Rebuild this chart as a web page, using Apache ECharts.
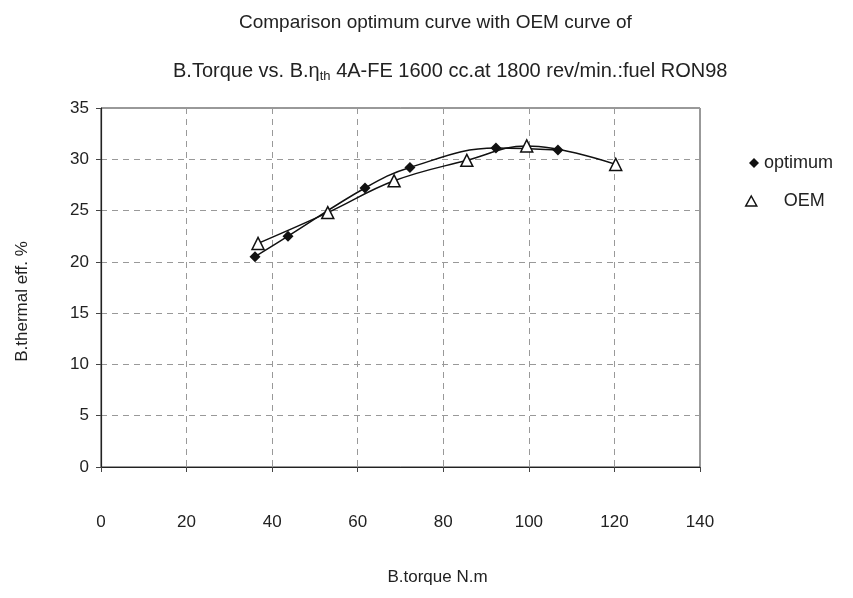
<!DOCTYPE html>
<html>
<head>
<meta charset="utf-8">
<script src="https://cdn.jsdelivr.net/npm/echarts@6/dist/echarts.min.js"></script>
<style>
  html, body { margin: 0; padding: 0; background: #fff; }
  #chart { width: 853px; height: 598px; }
</style>
</head>
<body>
<div id="chart"></div>
<script>
// values
const optTorque = [36.0, 43.7, 61.7, 72.2, 92.3, 106.8];
const optEff = [20.5, 22.5, 27.2, 29.2, 31.1, 30.9];
const oemTorque = [36.7, 53.0, 68.5, 85.5, 99.5, 120.3];
const oemEff = [21.8, 24.8, 27.9, 29.9, 31.3, 29.5];

const FONT = "Liberation Sans, Arial, sans-serif";

const chart = echarts.init(document.getElementById("chart"));

const toPairs = (xs, ys) => xs.map((x, i) => [x, ys[i]]);

const option = {
  backgroundColor: "#fff",
  animation: false,
  textStyle: { fontFamily: FONT, color: "#222" },
  title: [
    {
      text: "Comparison optimum curve with OEM curve of",
      left: 234,
      top: 8,
      textStyle: { fontSize: 19, fontWeight: "normal", color: "#222", fontFamily: FONT }
    },
    {
      text: "B.Torque vs. B.η{sub|th} 4A-FE 1600 cc.at 1800 rev/min.:fuel RON98",
      left: 168,
      top: 54,
      textStyle: {
        fontSize: 20,
        fontWeight: "normal",
        color: "#222",
        fontFamily: FONT,
        rich: {
          sub: { fontSize: 13, verticalAlign: "bottom", padding: [11, 0, 0, 0], color: "#222" }
        }
      }
    }
  ],
  legend: [
    {
      data: [{ name: "optimum", icon: "diamond" }],
      left: 744,
      top: 149,
      itemWidth: 10,
      itemHeight: 10,
      itemGap: 6,
      textStyle: { fontSize: 18, color: "#222", fontFamily: FONT }
    },
    {
      data: [{
        name: "OEM",
        icon: "triangle",
        itemStyle: { color: "#fff", borderColor: "#111", borderWidth: 1.5 }
      }],
      left: 740,
      top: 187,
      itemWidth: 11,
      itemHeight: 10,
      textStyle: { fontSize: 18, color: "#222", fontFamily: FONT, padding: [0, 0, 0, 22] }
    }
  ],
  grid: {
    left: 101,
    right: 153,
    top: 108,
    bottom: 131,
    show: true,
    borderColor: "#333",
    borderWidth: 1
  },
  xAxis: {
    type: "value",
    min: 0,
    max: 140,
    interval: 20,
    name: "B.torque N.m",
    nameLocation: "middle",
    nameGap: 102,
    nameTextStyle: { fontSize: 17, color: "#222", padding: [0, 0, 0, 74] },
    axisLine: { lineStyle: { color: "#222", width: 1.2 } },
    axisTick: { show: true, length: 5, lineStyle: { color: "#444" } },
    axisLabel: { margin: 47, fontSize: 17, color: "#222" },
    splitLine: { show: true, lineStyle: { color: "#999", type: [6, 5], width: 1 } }
  },
  yAxis: {
    type: "value",
    min: 0,
    max: 35,
    interval: 5,
    name: "B.thermal eff. %",
    nameLocation: "middle",
    nameGap: 70,
    nameTextStyle: { fontSize: 17, color: "#222", padding: [0, 28, 0, 0] },
    axisLine: { show: true, lineStyle: { color: "#222", width: 1.2 } },
    axisTick: { show: true, length: 5, lineStyle: { color: "#444" } },
    axisLabel: { margin: 12, fontSize: 17, color: "#222" },
    splitLine: { show: true, lineStyle: { color: "#999", type: [6, 5], width: 1 } }
  },
  series: [
    {
      name: "optimum",
      type: "line",
      data: toPairs(optTorque, optEff),
      smooth: 0.4,
      symbol: "diamond",
      symbolSize: 11,
      lineStyle: { color: "#111", width: 1.5 },
      itemStyle: { color: "#111" },
      z: 3
    },
    {
      name: "OEM",
      type: "line",
      data: toPairs(oemTorque, oemEff),
      smooth: 0.4,
      symbol: "triangle",
      symbolSize: 12,
      lineStyle: { color: "#111", width: 1.5 },
      itemStyle: { color: "#fff", borderColor: "#111", borderWidth: 1.5 },
      z: 4
    }
  ]
};

chart.setOption(option);
window.addEventListener("resize", () => chart.resize());
</script>
</body>
</html>
